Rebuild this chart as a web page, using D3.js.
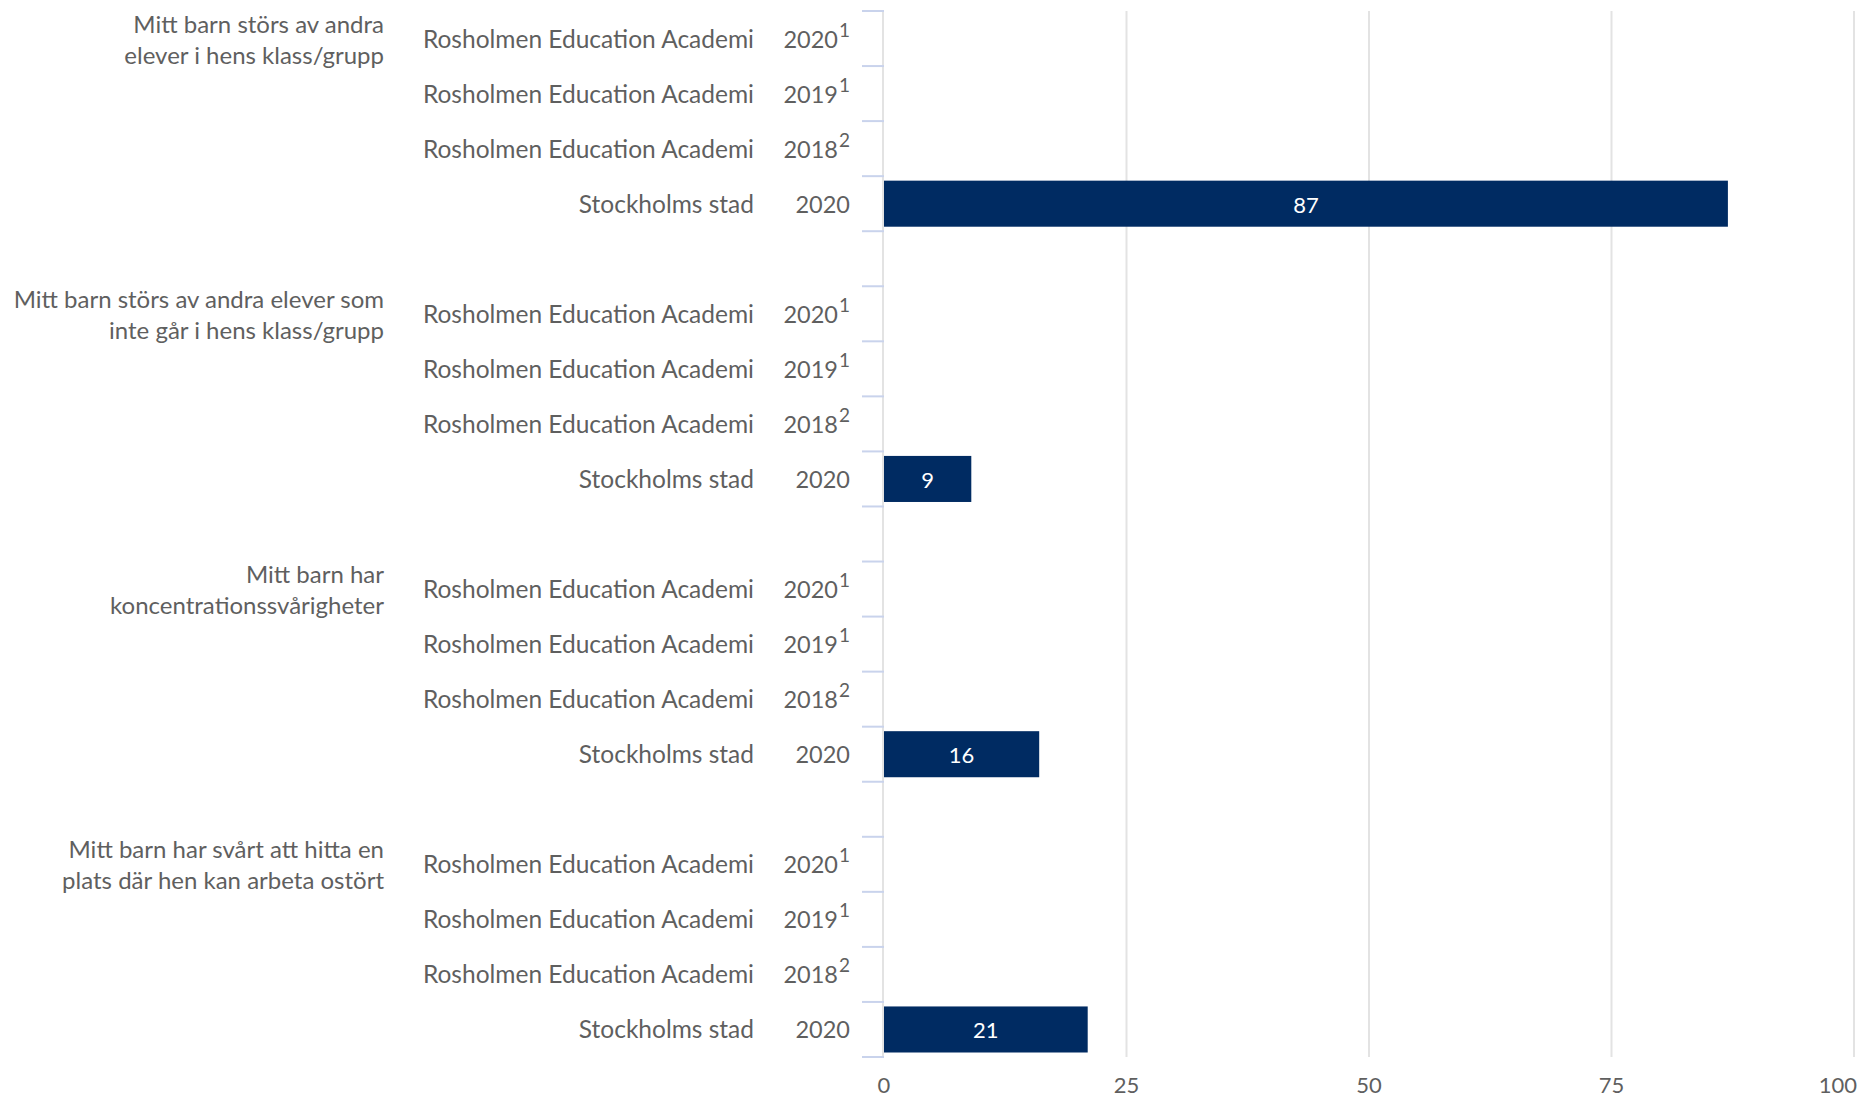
<!DOCTYPE html>
<html>
<head>
<meta charset="utf-8">
<script src="https://cdn.jsdelivr.net/npm/d3@7"></script>
<style>
  body { margin: 0; background: #fff; }
  text { font-family: Lato, "Open Sans", sans-serif; }
</style>
</head>
<body>
<div id="chart"></div>
<script>
// frågor (en per grupp), radbrytningar som i originalet
const questions = [
    ['Mitt barn störs av andra', 'elever i hens klass/grupp'],
    ['Mitt barn störs av andra elever som', 'inte går i hens klass/grupp'],
    ['Mitt barn har', 'koncentrationssvårigheter'],
    ['Mitt barn har svårt att hitta en', 'plats där hen kan arbeta ostört']
];
const rowNames = ['Rosholmen Education Academi', 'Rosholmen Education Academi', 'Rosholmen Education Academi', 'Stockholms stad'];
const rowYears = ['2020', '2019', '2018', '2020'];
const rowNotes = ['1', '1', '2', ''];
// värden per fråga, null = inget värde visas
const values = [
    [null, null, null, 87],
    [null, null, null, 9],
    [null, null, null, 16],
    [null, null, null, 21]
];
const xTicks = [0, 25, 50, 75, 100];

const width = 1858;
const height = 1098;
const plotLeft = 884, plotRight = 1854;
const plotTop = 11, plotBottom = 1057;

const svg = d3.select('#chart')
    .append('svg')
    .attr('width', width)
    .attr('height', height);

// en slot per rad, plus en tom slot mellan grupperna
const slots = [];
questions.forEach((q, i) => {
    rowNames.forEach((r, j) => slots.push(`${i}-${j}`));
    if (i < questions.length - 1) slots.push(`gap-${i}`);
});

const x = d3.scaleLinear().domain([0, 100]).range([plotLeft, plotRight]);
const y = d3.scaleBand().domain(slots).range([plotTop, plotBottom]).paddingInner(0).paddingOuter(0);
const barPad = 4.5;

// stödlinjer
svg.append('g')
    .selectAll('line')
    .data(xTicks)
    .enter()
    .append('line')
    .attr('x1', d => x(d) - (d === 0 ? 1 : 0))
    .attr('x2', d => x(d) - (d === 0 ? 1 : 0))
    .attr('y1', plotTop)
    .attr('y2', plotBottom)
    .attr('stroke', '#e3e3e3')
    .attr('stroke-width', 2);

// x-axelns etiketter (sista etiketten hålls innanför kanten)
svg.append('g')
    .selectAll('text')
    .data(xTicks)
    .enter()
    .append('text')
    .attr('x', (d, i) => i === xTicks.length - 1 ? width - 1 : x(d))
    .attr('y', 1093)
    .attr('text-anchor', (d, i) => i === xTicks.length - 1 ? 'end' : 'middle')
    .attr('fill', '#5f5f5f')
    .attr('font-size', 22)
    .text(d => d);

const rows = [];
questions.forEach((q, i) => {
    rowNames.forEach((r, j) => rows.push({
        key: `${i}-${j}`, q: i, j: j, name: r, year: rowYears[j], note: rowNotes[j], value: values[i][j]
    }));
});

// skalstreck vid radgränserna
const tickYs = [];
questions.forEach((q, i) => {
    rowNames.forEach((r, j) => tickYs.push(y(`${i}-${j}`)));
    tickYs.push(y(`${i}-${rowNames.length - 1}`) + y.bandwidth());
});
svg.append('g')
    .selectAll('line')
    .data(tickYs)
    .enter()
    .append('line')
    .attr('x1', plotLeft - 22)
    .attr('x2', plotLeft)
    .attr('y1', d => d)
    .attr('y2', d => d)
    .attr('stroke', '#c9d3ec')
    .attr('stroke-width', 2);

// staplar
svg.append('g')
    .selectAll('rect')
    .data(rows.filter(d => d.value != null))
    .enter()
    .append('rect')
    .attr('x', x(0))
    .attr('y', d => y(d.key) + barPad)
    .attr('width', d => x(d.value) - x(0))
    .attr('height', y.bandwidth() - 2 * barPad)
    .attr('fill', '#002b62');

svg.append('g')
    .selectAll('text')
    .data(rows.filter(d => d.value != null))
    .enter()
    .append('text')
    .attr('x', d => (x(0) + x(d.value)) / 2)
    .attr('y', d => y(d.key) + y.bandwidth() / 2 + 9)
    .attr('text-anchor', 'middle')
    .attr('fill', '#fff')
    .attr('font-size', 22)
    .text(d => d.value);

// radetiketter
const rowG = svg.append('g')
    .selectAll('g')
    .data(rows)
    .enter()
    .append('g')
    .attr('transform', d => `translate(0,${y(d.key) + y.bandwidth() / 2 + 9})`);

rowG.append('text')
    .attr('x', 754)
    .attr('text-anchor', 'end')
    .attr('fill', '#5f5f5f')
    .attr('font-size', 24.5)
    .text(d => d.name);

const yearText = rowG.append('text')
    .attr('x', 850)
    .attr('text-anchor', 'end')
    .attr('fill', '#5f5f5f')
    .attr('font-size', 23.5);
yearText.append('tspan').text(d => d.year);
yearText.filter(d => d.note)
    .append('tspan')
    .attr('dx', 1)
    .attr('dy', -11)
    .attr('font-size', 19)
    .text(d => d.note);

// grupprubriker, centrerade på gruppens första rad
svg.append('g')
    .selectAll('text')
    .data(questions)
    .enter()
    .append('text')
    .attr('text-anchor', 'end')
    .attr('fill', '#5f5f5f')
    .attr('font-size', 24)
    .each(function (d, i) {
        const cy = y(`${i}-0`) + y.bandwidth() / 2;
        d3.select(this).selectAll('tspan')
            .data(d)
            .enter()
            .append('tspan')
            .attr('x', 384)
            .attr('y', (t, k) => cy - 15 + k * 31 + 9)
            .text(t => t);
    });
</script>
</body>
</html>
